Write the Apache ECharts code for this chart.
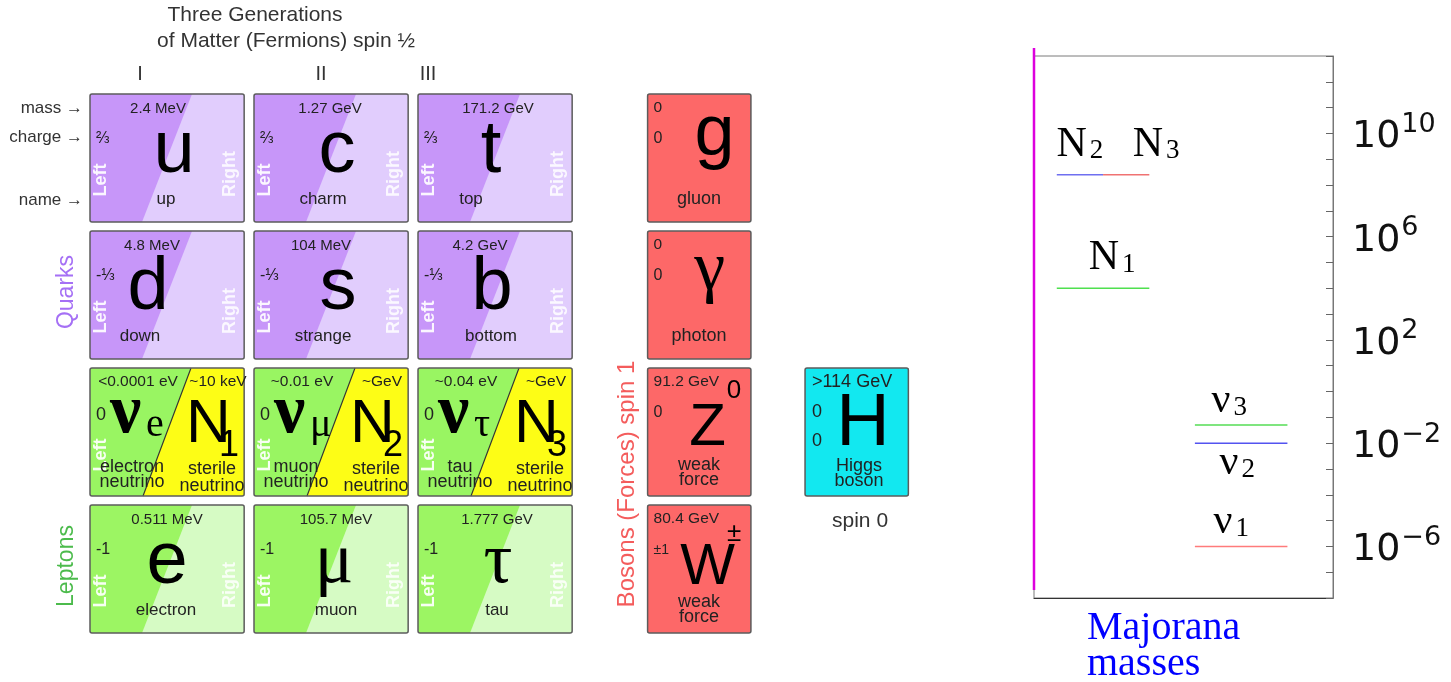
<!DOCTYPE html>
<html>
<head>
<meta charset="utf-8">
<title>Standard Model with sterile neutrinos</title>
<script src="https://cdn.jsdelivr.net/npm/echarts@6/dist/echarts.min.js"></script>
<style>
html, body { margin: 0; padding: 0; background: #fff; }
#main { width: 1451px; height: 682px; }
</style>
</head>
<body>
<div id="main"></div>
<script>
// ---- particle table data ----
var generations = ['I', 'II', 'III'];

// quarks and charged leptons (rows 0, 1 and 3)
var fermionSymbols = ['u', 'c', 't', 'd', 's', 'b', 'e', 'μ', 'τ'];
var fermionNames = ['up', 'charm', 'top', 'down', 'strange', 'bottom', 'electron', 'muon', 'tau'];
var fermionMasses = ['2.4 MeV', '1.27 GeV', '171.2 GeV', '4.8 MeV', '104 MeV', '4.2 GeV', '0.511 MeV', '105.7 MeV', '1.777 GeV'];
var fermionCharges = ['⅔', '⅔', '⅔', '-⅓', '-⅓', '-⅓', '-1', '-1', '-1'];
var fermionGens = [0, 1, 2, 0, 1, 2, 0, 1, 2];
var fermionRows = [0, 0, 0, 1, 1, 1, 3, 3, 3];

// neutrino row: active (left) and sterile (right) halves
var neutrinoFlavours = ['e', 'μ', 'τ'];
var neutrinoNames = ['electron\nneutrino', 'muon\nneutrino', 'tau\nneutrino'];
var neutrinoMasses = ['<0.0001 eV', '~0.01 eV', '~0.04 eV'];
var sterileMasses = ['~10 keV', '~GeV', '~GeV'];
var sterileIndex = ['1', '2', '3'];

// gauge bosons and higgs
var bosonSymbols = ['g', 'γ', 'Z', 'W'];
var bosonSups = ['', '', '0', '±'];
var bosonNames = ['gluon', 'photon', 'weak\nforce', 'weak\nforce'];
var bosonMasses = ['0', '0', '91.2 GeV', '80.4 GeV'];
var bosonCharges = ['0', '0', '0', '±1'];
var higgsMass = '>114 GeV';

// ---- Majorana mass levels (eV) ----
var levelLabels = ['N1', 'N2', 'N3', 'ν1', 'ν2', 'ν3'];
var levelMasses = [1e4, 2.5e8, 2.5e8, 1e-6, 1e-2, 5e-2];
var levelGroups = [1, 1, 1, 3, 3, 3];      // N block at x=1, light nu block at x=3
var levelHalves = [0, -1, 1, 0, 0, 0];     // N2 / N3 share one level
var labelExponents = [-6, -2, 2, 6, 10];

// layout only
var SANS = '"Liberation Sans", Arial, sans-serif';
var SERIF = '"Liberation Serif", "Times New Roman", serif';
var CELL_W = 0.94, BOSON_W = 0.63, CELL_H = 0.934;
var BOSON_COL = 3.4, HIGGS_COL = 4.36;
var massDx = [68, 76, 80, 62, 67, 62, 77, 82, 79];
var symbolDx = [84, 83, 73, 58, 84, 74, 77, 80, 80];
var nameDx = [76, 69, 53, 50, 69, 73, 76, 82, 79];
var bosonSymDx = [67, 62, 60, 60], bosonSymY = [41, 40, 60, 63], bosonSymSize = [72, 70, 60, 58];
var levelLabelDx = [9, 0, 30, -10, -4, -12];
var levelLabelDy = [-10, -10, -10, -4, 0, -4];
var levelLabelBelow = [false, false, false, false, true, false];
var levelColors = ['#4fe04f', '#6f6ff0', '#f07272', '#ff7b7b', '#5353f0', '#55dd55'];

function txt(x, y, text, size, o) {
    o = o || {};
    return {
        type: 'text', x: x, y: y, rotation: o.rotation || 0,
        style: {
            text: text, fill: o.color || '#222', fontSize: size,
            fontFamily: o.family || SANS, fontWeight: o.weight || 'normal',
            align: o.align || 'center', verticalAlign: 'middle',
            lineHeight: o.lineHeight
        }
    };
}

function border(x, y, w, h) {
    return { type: 'rect', shape: { x: x, y: y, width: w, height: h, r: 2 },
        style: { fill: 'none', stroke: '#5c5c5c', lineWidth: 1.5 } };
}

function renderFermion(params, api) {
    var i = params.dataIndex;
    var p = api.coord([api.value(0), api.value(1)]);
    var s = api.size([CELL_W, CELL_H]);
    var x = p[0], y = p[1], w = s[0], h = s[1];
    var quark = fermionRows[i] < 2;
    var sym = fermionSymbols[i];
    var serif = sym === 'μ' || sym === 'τ';
    return {
        type: 'group',
        children: [
            { type: 'rect', shape: { x: x, y: y, width: w, height: h }, style: { fill: quark ? '#e1cdfd' : '#d6fbc4' } },
            { type: 'polygon', shape: { points: [[x, y], [x + 102, y], [x + 52, y + h], [x, y + h]] },
              style: { fill: quark ? '#c796f9' : '#9cf563' } },
            border(x, y, w, h),
            txt(x + 11, y + 86, 'Left', 18, { rotation: Math.PI / 2, color: 'rgba(255,255,255,0.92)', weight: 'bold' }),
            txt(x + 140, y + 80, 'Right', 18, { rotation: Math.PI / 2, color: 'rgba(255,255,255,0.85)', weight: 'bold' }),
            txt(x + massDx[i], y + 15, fermionMasses[i], 15),
            txt(x + 6, y + 45, fermionCharges[i], 16, { align: 'left', family: SANS + ', "DejaVu Sans"' }),
            txt(x + symbolDx[i], y + 58, sym, serif ? 72 : 74, { color: '#000', family: serif ? SERIF : SANS }),
            txt(x + nameDx[i], y + 105.5, fermionNames[i], 17)
        ]
    };
}

function renderNeutrino(params, api) {
    var i = params.dataIndex;
    var p = api.coord([api.value(0), api.value(1)]);
    var s = api.size([CELL_W, CELL_H]);
    var x = p[0], y = p[1], w = s[0], h = s[1];
    return {
        type: 'group',
        children: [
            { type: 'rect', shape: { x: x, y: y, width: w, height: h }, style: { fill: '#fdfd16' } },
            { type: 'polygon', shape: { points: [[x, y], [x + 101, y], [x + 53, y + h], [x, y + h]] }, style: { fill: '#99f562' } },
            { type: 'line', shape: { x1: x + 101, y1: y, x2: x + 53, y2: y + h }, style: { stroke: '#333', lineWidth: 1.2 } },
            border(x, y, w, h),
            txt(x + 11, y + 87, 'Left', 18, { rotation: Math.PI / 2, color: 'rgba(255,255,255,0.92)', weight: 'bold' }),
            txt(x + 48, y + 14, neutrinoMasses[i], 15.5),
            txt(x + 128, y + 14, sterileMasses[i], 15.5),
            txt(x + 6, y + 47, '0', 18, { align: 'left' }),
            txt(x + 20, y + 46, 'ν', 70, { align: 'left', color: '#000', family: SERIF, weight: 'bold' }),
            txt(x + 56, y + 57, neutrinoFlavours[i], 40, { align: 'left', color: '#000', family: SERIF }),
            txt(x + 96, y + 57, 'N', 62, { align: 'left', color: '#000' }),
            txt(x + 129, y + 78, sterileIndex[i], 36, { align: 'left', color: '#000' }),
            txt(x + 42, y + 107, neutrinoNames[i], 18, { lineHeight: 15 }),
            txt(x + 122, y + 109.5, 'sterile\nneutrino', 18, { lineHeight: 17 })
        ]
    };
}

function renderBoson(params, api) {
    var i = params.dataIndex;
    var p = api.coord([api.value(0), api.value(1)]);
    var s = api.size([BOSON_W, CELL_H]);
    var x = p[0], y = p[1], w = s[0], h = s[1];
    var kids = [
        { type: 'rect', shape: { x: x, y: y, width: w, height: h }, style: { fill: '#fd6868' } },
        border(x, y, w, h),
        txt(x + 6, y + 14, bosonMasses[i], 15.5, { align: 'left' }),
        txt(x + 6, y + 45, bosonCharges[i], bosonCharges[i].length > 1 ? 14 : 16, { align: 'left' }),
        txt(x + bosonSymDx[i], y + bosonSymY[i], bosonSymbols[i], bosonSymSize[i],
            { color: '#000', family: bosonSymbols[i] === 'γ' ? SERIF : SANS }),
        txt(x + 51.5, y + 105, bosonNames[i], 18, { lineHeight: 15 })
    ];
    if (bosonSups[i]) {
        kids.push(txt(x + 86.5, y + (bosonSups[i] === '0' ? 23 : 29), bosonSups[i], 26, { color: '#000' }));
    }
    return { type: 'group', children: kids };
}

function renderHiggs(params, api) {
    var p = api.coord([api.value(0), api.value(1)]);
    var s = api.size([BOSON_W, CELL_H]);
    var x = p[0], y = p[1], w = s[0], h = s[1];
    return {
        type: 'group',
        children: [
            { type: 'rect', shape: { x: x, y: y, width: w, height: h }, style: { fill: '#12e8f0' } },
            border(x, y, w, h),
            txt(x + 47, y + 14, higgsMass, 18),
            txt(x + 7, y + 44, '0', 18, { align: 'left' }),
            txt(x + 7, y + 73, '0', 18, { align: 'left' }),
            txt(x + 58, y + 57, 'H', 74, { color: '#000' }),
            txt(x + 54, y + 105.5, 'Higgs\nboson', 18, { lineHeight: 15 }),
            txt(x + 55, y + 153, 'spin 0', 21, { color: '#333' })
        ]
    };
}

// levels are placed on a log10 mass axis
function renderLevel(params, api) {
    var i = params.dataIndex;
    var g = api.value(0), m = api.value(1);
    var half = 0.67;
    var a = api.coord([levelHalves[i] > 0 ? g : g - half, m]);
    var b = api.coord([levelHalves[i] < 0 ? g : g + half, m]);
    var lbl = levelLabels[i];
    var below = levelLabelBelow[i];
    return {
        type: 'group',
        children: [
            { type: 'line', shape: { x1: a[0], y1: a[1], x2: b[0], y2: b[1] },
              style: { stroke: levelColors[i], lineWidth: 1.5 } },
            { type: 'text', x: (a[0] + b[0]) / 2 + levelLabelDx[i], y: a[1] + levelLabelDy[i],
              style: {
                  text: '{b|' + lbl.charAt(0) + '}{s|' + lbl.slice(1) + '}',
                  align: 'center', verticalAlign: below ? 'top' : 'bottom',
                  rich: {
                      b: { fontSize: 42, lineHeight: 40, fontFamily: SERIF, fill: '#000', color: '#000' },
                      s: { fontSize: 27, lineHeight: 12, fontFamily: SERIF, fill: '#000', color: '#000',
                           verticalAlign: 'bottom', padding: [0, 0, 0, 3] }
                  }
              } }
        ]
    };
}

var chart = echarts.init(document.getElementById('main'));
var option = {
    animation: false,
    grid: [
        { left: 90, top: 94, width: 820, height: 548 },
        { left: 1034, top: 56, width: 299, height: 542, show: true, borderColor: '#7a7a7a', borderWidth: 1 }
    ],
    xAxis: [
        { gridIndex: 0, type: 'value', min: 0, max: 5, show: false },
        { gridIndex: 1, type: 'value', min: 0, max: 4.33,
          axisLine: { show: true, onZero: false, lineStyle: { color: '#333', width: 1.2 } },
          axisTick: { show: false }, axisLabel: { show: false }, splitLine: { show: false } }
    ],
    yAxis: [
        { gridIndex: 0, type: 'value', min: 0, max: 4, inverse: true, show: false },
        { gridIndex: 1, type: 'value', min: -8, max: 13, interval: 1, position: 'right',
          axisLine: { show: true, onZero: false, lineStyle: { color: '#777' } },
          axisTick: { show: true, inside: true, length: 7, lineStyle: { color: '#666' } },
          splitLine: { show: false },
          axisLabel: {
              interval: 0, margin: 19,
              formatter: function (v) {
                  if (labelExponents.indexOf(v) < 0) return '';
                  return '{b|10}{s|' + String(v).replace('-', '−') + '}';
              },
              rich: {
                  b: { fontSize: 38, fontFamily: '"DejaVu Sans"', color: '#111', lineHeight: 44, padding: [8, 0, 0, 0] },
                  s: { fontSize: 27, fontFamily: '"DejaVu Sans"', color: '#111', lineHeight: 32, verticalAlign: 'top', padding: [0, 0, 0, 1] }
              }
          } }
    ],
    graphic: [
        { type: 'text', x: 255, y: 15, style: { text: 'Three Generations', font: '21px ' + SANS, fill: '#333', align: 'center', verticalAlign: 'middle' } },
        { type: 'text', x: 286, y: 41, style: { text: 'of Matter (Fermions) spin ½', font: '21px ' + SANS, fill: '#333', align: 'center', verticalAlign: 'middle' } },
        { type: 'text', x: 140, y: 74, style: { text: generations[0], font: '20px ' + SANS, fill: '#333', align: 'center', verticalAlign: 'middle' } },
        { type: 'text', x: 321, y: 74, style: { text: generations[1], font: '20px ' + SANS, fill: '#333', align: 'center', verticalAlign: 'middle' } },
        { type: 'text', x: 428, y: 74, style: { text: generations[2], font: '20px ' + SANS, fill: '#333', align: 'center', verticalAlign: 'middle' } },
        { type: 'text', x: 83, y: 108, style: { text: 'mass →', font: '17px ' + SANS, fill: '#333', align: 'right', verticalAlign: 'middle' } },
        { type: 'text', x: 83, y: 137, style: { text: 'charge →', font: '17px ' + SANS, fill: '#333', align: 'right', verticalAlign: 'middle' } },
        { type: 'text', x: 83, y: 200, style: { text: 'name →', font: '17px ' + SANS, fill: '#333', align: 'right', verticalAlign: 'middle' } },
        { type: 'text', x: 67, y: 292, rotation: Math.PI / 2, style: { text: 'Quarks', font: '23px ' + SANS, fill: '#a570f5', align: 'center', verticalAlign: 'middle' } },
        { type: 'text', x: 67, y: 566, rotation: Math.PI / 2, style: { text: 'Leptons', font: '23px ' + SANS, fill: '#4cbb4c', align: 'center', verticalAlign: 'middle' } },
        { type: 'text', x: 627, y: 484, rotation: Math.PI / 2, style: { text: 'Bosons (Forces) spin 1', font: '24px ' + SANS, fill: '#f45c5c', align: 'center', verticalAlign: 'middle' } },
        { type: 'line', shape: { x1: 1034, y1: 48, x2: 1034, y2: 590 }, style: { stroke: '#dd00dd', lineWidth: 2.5 } },
        { type: 'text', x: 1087, y: 610, style: { text: 'Majorana\nmasses', font: '40px ' + SERIF, fill: '#0000ff', lineHeight: 36, align: 'left', verticalAlign: 'top' } }
    ],
    series: [
        { type: 'custom', xAxisIndex: 0, yAxisIndex: 0, renderItem: renderFermion,
          data: fermionGens.map(function (g, i) { return [g, fermionRows[i]]; }) },
        { type: 'custom', xAxisIndex: 0, yAxisIndex: 0, renderItem: renderNeutrino,
          data: neutrinoFlavours.map(function (f, i) { return [i, 2]; }) },
        { type: 'custom', xAxisIndex: 0, yAxisIndex: 0, renderItem: renderBoson,
          data: bosonSymbols.map(function (b, i) { return [BOSON_COL, i]; }) },
        { type: 'custom', xAxisIndex: 0, yAxisIndex: 0, renderItem: renderHiggs,
          data: [[HIGGS_COL, 2]] },
        { type: 'custom', xAxisIndex: 1, yAxisIndex: 1, renderItem: renderLevel,
          data: levelMasses.map(function (m, i) { return [levelGroups[i], Math.log10(m)]; }) }
    ]
};
chart.setOption(option);
</script>
</body>
</html>
